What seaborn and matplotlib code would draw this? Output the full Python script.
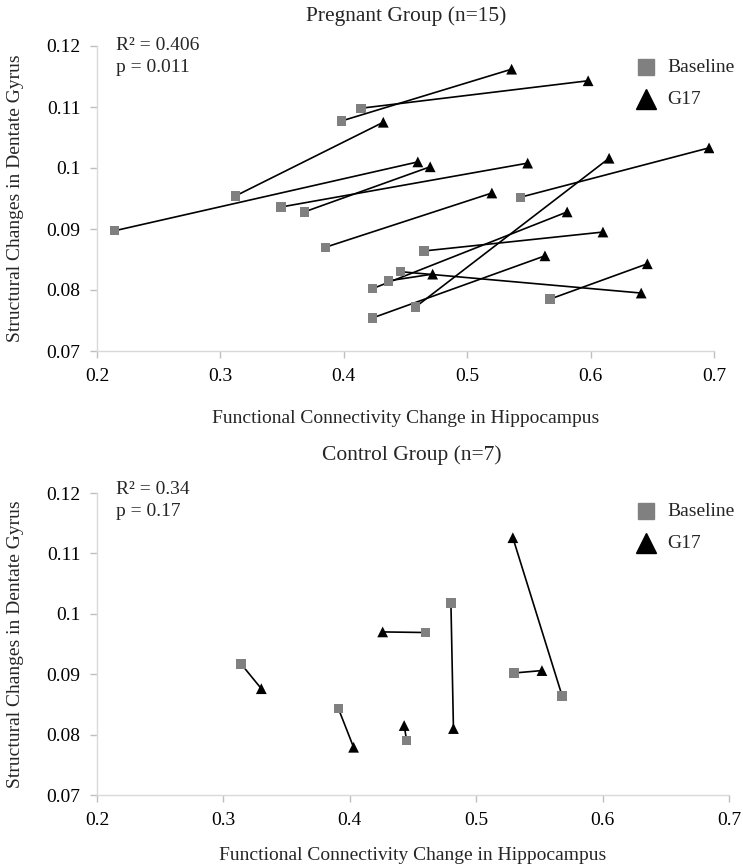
import pandas as pd
import matplotlib.pyplot as plt
import seaborn as sns
from matplotlib.lines import Line2D

# Pregnant group: baseline (square) and G17 (triangle) per subject
preg_base_x = [0.214, 0.312, 0.398, 0.414, 0.349, 0.368, 0.385, 0.458, 0.423, 0.423, 0.436, 0.446, 0.465, 0.567, 0.543]
preg_base_y = [0.0897, 0.0954, 0.1077, 0.1098, 0.0936, 0.0928, 0.0870, 0.0772, 0.0754, 0.0802, 0.0815, 0.0830, 0.0864, 0.0785, 0.0952]
preg_g17_x = [0.460, 0.432, 0.536, 0.598, 0.549, 0.470, 0.520, 0.615, 0.563, 0.581, 0.472, 0.641, 0.610, 0.646, 0.696]
preg_g17_y = [0.1010, 0.1075, 0.1162, 0.1143, 0.1008, 0.1002, 0.0959, 0.1016, 0.0856, 0.0928, 0.0826, 0.0795, 0.0895, 0.0843, 0.1033]

# Control group
ctrl_base_x = [0.314, 0.391, 0.445, 0.480, 0.530, 0.568, 0.460]
ctrl_base_y = [0.0917, 0.0843, 0.0790, 0.1018, 0.0902, 0.0864, 0.0969]
ctrl_g17_x = [0.330, 0.403, 0.443, 0.482, 0.552, 0.529, 0.426]
ctrl_g17_y = [0.0876, 0.0779, 0.0815, 0.0810, 0.0906, 0.1126, 0.0970]

titles = ['Pregnant Group (n=15)', 'Control Group (n=7)']
r2_text = ['R\u00b2 = 0.406', 'R\u00b2 = 0.34']
p_text = ['p = 0.011', 'p = 0.17']
x_ticks = [0.2, 0.3, 0.4, 0.5, 0.6, 0.7]
y_ticks = [0.07, 0.08, 0.09, 0.1, 0.11, 0.12]
y_tick_labels = ['0.07', '0.08', '0.09', '0.1', '0.11', '0.12']


def long_form(bx, by, gx, gy):
    n = len(bx)
    return pd.DataFrame({
        'subject': list(range(n)) * 2,
        'Timepoint': ['Baseline'] * n + ['G17'] * n,
        'x': bx + gx,
        'y': by + gy,
    })


sns.set_theme(style='white')
plt.rcParams['font.family'] = ['Liberation Serif', 'DejaVu Serif']

W, H = 743, 867
fig = plt.figure(figsize=(W / 100, H / 100), dpi=100)
# axes boxes in pixels: left, right, top, bottom
boxes = [(97, 714, 46, 351), (97, 729, 493, 795)]
axes = [fig.add_axes([l / W, 1 - b / H, (r - l) / W, (b - t) / H]) for l, r, t, b in boxes]

frames = [long_form(preg_base_x, preg_base_y, preg_g17_x, preg_g17_y),
          long_form(ctrl_base_x, ctrl_base_y, ctrl_g17_x, ctrl_g17_y)]

# pixel y of R2 line, p line, legend square, legend triangle; x label pad
text_y = [(45, 67, 67, 99, 18), (489, 512, 511, 543, 13)]

for ax, box, df, r2, p, ty in zip(axes, boxes, frames, r2_text, p_text, text_y):
    sns.lineplot(data=df, x='x', y='y', units='subject', estimator=None, sort=False,
                 color='black', linewidth=1.2, ax=ax, legend=False)
    base = df[df['Timepoint'] == 'Baseline']
    g17 = df[df['Timepoint'] == 'G17']
    sns.scatterplot(data=base, x='x', y='y', marker='s', color='#808080', s=45,
                    edgecolor='none', ax=ax, zorder=3)
    sns.scatterplot(data=g17, x='x', y='y', marker='^', color='black', s=60,
                    edgecolor='none', ax=ax, zorder=3)

    ax.set_xlim(0.2, 0.7)
    ax.set_ylim(0.07, 0.12)
    ax.set_xticks(x_ticks)
    ax.set_xticklabels([str(v) for v in x_ticks])
    ax.set_yticks(y_ticks)
    ax.set_yticklabels(y_tick_labels)
    ax.tick_params(axis='both', labelsize=14, colors='#bfbfbf', labelcolor='black',
                   length=5, width=1, direction='out', bottom=True, left=True, pad=7)
    for side in ['top', 'right']:
        ax.spines[side].set_visible(False)
    for side in ['left', 'bottom']:
        ax.spines[side].set_color('#d9d9d9')
        ax.spines[side].set_linewidth(1)
    ax.set_xlabel('Functional Connectivity Change in Hippocampus', fontsize=14, labelpad=ty[4])
    ax.set_ylabel('Structural Changes in Dentate Gyrus', fontsize=14, labelpad=16)

    fig.text(116 / W, 1 - ty[0] / H, r2, fontsize=14, va='center')
    fig.text(116 / W, 1 - ty[1] / H, p, fontsize=14, va='center')

    # legend markers and labels
    fig.add_artist(Line2D([646 / W], [1 - ty[2] / H], marker='s', color='#808080',
                          linestyle='none', markersize=12))
    fig.add_artist(Line2D([646 / W], [1 - ty[3] / H], marker='^', color='black',
                          linestyle='none', markersize=14))
    fig.text(667 / W, 1 - ty[2] / H, 'Baseline', fontsize=14, va='center')
    fig.text(667 / W, 1 - ty[3] / H, 'G17', fontsize=14, va='center')

fig.text(406 / W, 1 - 16 / H, titles[0], ha='center', va='center', fontsize=15.5)
fig.text(412 / W, 1 - 455 / H, titles[1], ha='center', va='center', fontsize=15.5)

fig.savefig('out.png', dpi=100)
